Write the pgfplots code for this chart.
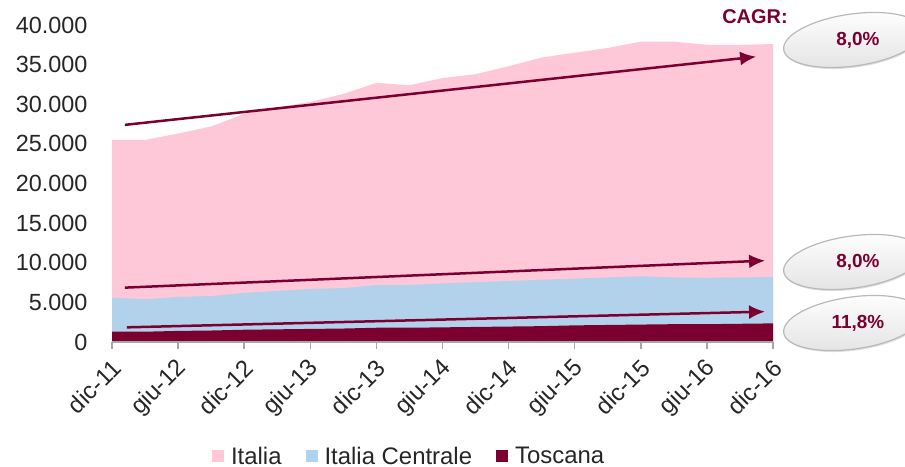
\documentclass[border=0pt]{standalone}
\usepackage{pgfplots}
\pgfplotsset{compat=1.18}
\usepackage{fontspec}
\setmainfont{Liberation Sans}
\usetikzlibrary{arrows.meta,shadows}
\definecolor{pinkc}{RGB}{255,200,216}
\definecolor{bluec}{RGB}{178,210,236}
\definecolor{darkc}{RGB}{123,0,48}
\definecolor{txtc}{RGB}{38,38,38}
\begin{document}
\begin{tikzpicture}
\path[use as bounding box] (0,0) rectangle (905bp,-467bp);
\begin{axis}[
  at={(112bp,-342bp)}, anchor=south west,
  scale only axis, width=661bp, height=317bp,
  xmin=0, xmax=20, ymin=0, ymax=40000,
  enlargelimits=false,
  axis x line*=bottom, axis y line*=left,
  y axis line style={draw=none},
  x axis line style={draw=gray!70, line width=1.5bp},
  ytick={0,5000,...,40000},
  ytick style={draw=none},
  xtick={0,2,...,20},
  xticklabels={dic-11,giu-12,dic-12,giu-13,dic-13,giu-14,dic-14,giu-15,dic-15,giu-16,dic-16},
  xtick style={draw=gray!70, line width=1.5bp},
  tick align=outside, major tick length=7bp,
  scaled y ticks=false,
  /pgf/number format/.cd, 1000 sep={.}, assume math mode=true,
  /pgfplots/.cd,
  ticklabel style={font=\fontsize{23.5}{28}\selectfont, text=txtc},
  yticklabel style={xshift=-14bp},
  xticklabel style={font=\fontsize{24}{28}\selectfont, rotate=45, anchor=east, xshift=-4bp, yshift=-14bp},
  axis on top,
  clip=false,
  legend style={at={(0.448,-0.36)}, anchor=center, draw=none, fill=none,
    font=\fontsize{24}{28}\selectfont, text=txtc,
    legend columns=-1,
    /tikz/every odd column/.append style={column sep=7bp},
    /tikz/every even column/.append style={column sep=24bp},
    nodes={inner sep=0bp}},
  legend image code/.code={\fill[#1] (0bp,-6bp) rectangle (12bp,6bp);},
  legend cell align=left,
]
\addplot[fill=pinkc, draw=none] coordinates {
(0,25500)(1,25500)(2,26300)(3,27200)(4,28800)(5,29600)(6,30300)(7,31300)(8,32700)(9,32400)(10,33300)(11,33800)(12,34800)(13,35900)(14,36500)(15,37100)(16,37900)(17,37900)(18,37500)(19,37500)(20,37600)} \closedcycle;
\addlegendentry{Italia}
\addplot[fill=bluec, draw=none] coordinates {
(0,5600)(1,5400)(2,5700)(3,5800)(4,6200)(5,6450)(6,6700)(7,6800)(8,7200)(9,7200)(10,7400)(11,7550)(12,7700)(13,7850)(14,8000)(15,8150)(16,8300)(17,8150)(18,8100)(19,8150)(20,8200)} \closedcycle;
\addlegendentry{Italia Centrale}
\addplot[fill=darkc, draw=none] coordinates {
(0,1300)(1,1300)(2,1400)(3,1450)(4,1550)(5,1600)(6,1650)(7,1700)(8,1800)(9,1800)(10,1850)(11,1900)(12,1950)(13,2000)(14,2100)(15,2150)(16,2200)(17,2250)(18,2250)(19,2300)(20,2350)} \closedcycle;
\addlegendentry{Toscana}
\addplot[darkc, line width=2.5bp, -{Latex[length=16bp,width=14bp]}, forget plot] coordinates {(0.39,27400)(19.49,36000)};
\addplot[darkc, line width=2.5bp, -{Latex[length=16bp,width=14bp]}, forget plot] coordinates {(0.39,6860)(19.76,10270)};
\addplot[darkc, line width=2.5bp, -{Latex[length=16bp,width=14bp]}, forget plot] coordinates {(0.45,1850)(19.76,3830)};
\end{axis}
\node[font=\bfseries\fontsize{20}{24}\selectfont, text=darkc] at (755bp,-17bp) {CAGR:};
\foreach \cy/\lab in {40/{8,0\%},262/{8,0\%},323/{11,8\%}}{
  \path[draw=gray!55, line width=1.2bp, top color=white, bottom color=gray!22,
        drop shadow={shadow xshift=1bp, shadow yshift=-1.5bp, opacity=0.25}]
     (853bp,-\cy bp) ellipse [x radius=70bp, y radius=26bp, rotate=8];
  \node[font=\bfseries\fontsize{19}{22}\selectfont, text=darkc] at (858bp,-\cy bp) {\lab};
}
\end{tikzpicture}
\end{document}
